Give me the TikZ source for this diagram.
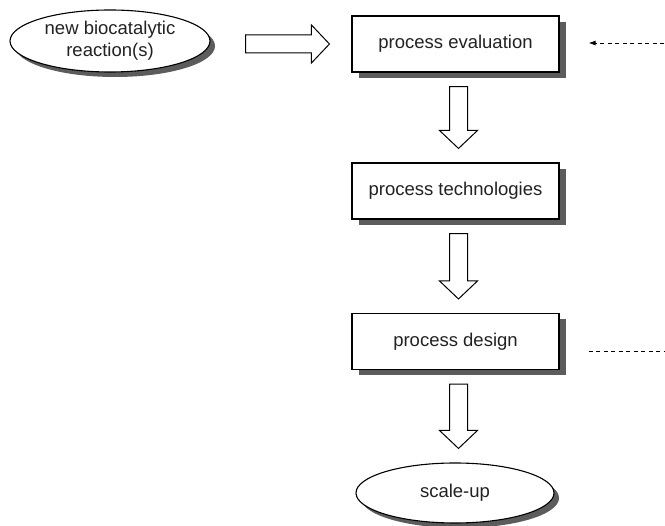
\documentclass[tikz,border=0pt]{standalone}
\usepackage{fontspec}
\setmainfont{Liberation Sans}
\usetikzlibrary{shapes.geometric,shadows,calc,arrows.meta}

\definecolor{shadowgray}{HTML}{5C5C5C}
\definecolor{inkgray}{HTML}{222222}

\tikzset{
  stagebox/.style={draw=black, line width=1.1pt, fill=white, text=inkgray,
    minimum width=207pt, minimum height=56pt, inner sep=0pt,
    font=\fontsize{18.5}{22}\selectfont,
    drop shadow={shadow xshift=6.5pt, shadow yshift=-6pt, fill=shadowgray, opacity=1}},
  endpoint/.style={ellipse, draw=black, line width=1.1pt, fill=white, text=inkgray,
    inner sep=0pt, align=center,
    font=\fontsize{18.5}{22}\selectfont,
    drop shadow={shadow xshift=5pt, shadow yshift=-5pt, fill=shadowgray, opacity=1}},
  blockarrow/.style={draw=black, line width=1pt, fill=white, line join=miter},
  feedback/.style={draw=black, line width=0.9pt, dash pattern=on 4pt off 3.5pt}
}

% hollow block arrow pointing down between two nodes
\newcommand\blockdown[2]{%
  \path[blockarrow] let \p1=($(#1.south)+(3,14)$), \p2=($(#2.north)+(3,-14)$) in
    (\x1-9pt,\y1) -- (\x1+9pt,\y1) -- (\x1+9pt,\y2+18pt) -- (\x1+19pt,\y2+18pt)
    -- (\x1,\y2) -- (\x1-19pt,\y2+18pt) -- (\x1-9pt,\y2+18pt) -- cycle;}

\begin{document}
\begin{tikzpicture}[x=1pt, y=-1pt]
  \useasboundingbox (0,0) rectangle (665,526);

  \node[endpoint, minimum width=200pt, minimum height=62pt] (rxn) at (110,41)
    {new biocatalytic\\reaction(s)};
  \node[stagebox] (eval) at (455.5,44) {process evaluation};
  \node[stagebox] (tech) at (455.5,191) {process technologies};
  \node[stagebox] (design) at (455.5,341.5) {process design};
  \node[endpoint, minimum width=198pt, minimum height=60pt] (scale) at (455,493)
    {scale-up};

  % horizontal block arrow from the new reaction to the evaluation
  \path[blockarrow] let \p1=($(rxn.east)+(35,0)$), \p2=($(eval.west)+(-22,0)$) in
    (\x1,\y2+9pt) -- (\x2-18pt,\y2+9pt) -- (\x2-18pt,\y2+19pt) -- (\x2,\y2)
    -- (\x2-18pt,\y2-19pt) -- (\x2-18pt,\y2-9pt) -- (\x1,\y2-9pt) -- cycle;

  \blockdown{eval}{tech}
  \blockdown{tech}{design}
  \blockdown{design}{scale}

  % feedback lines on the right
  \coordinate (fbin) at (664,43);
  \coordinate (fbout) at (664,351);
  \draw[feedback, -{Latex[length=7pt,width=5pt]}] (fbin) -- ($(eval.east)+(29,-1)$);
  \draw[feedback] ($(design.east)+(29,9.5)$) -- (fbout);
\end{tikzpicture}
\end{document}
